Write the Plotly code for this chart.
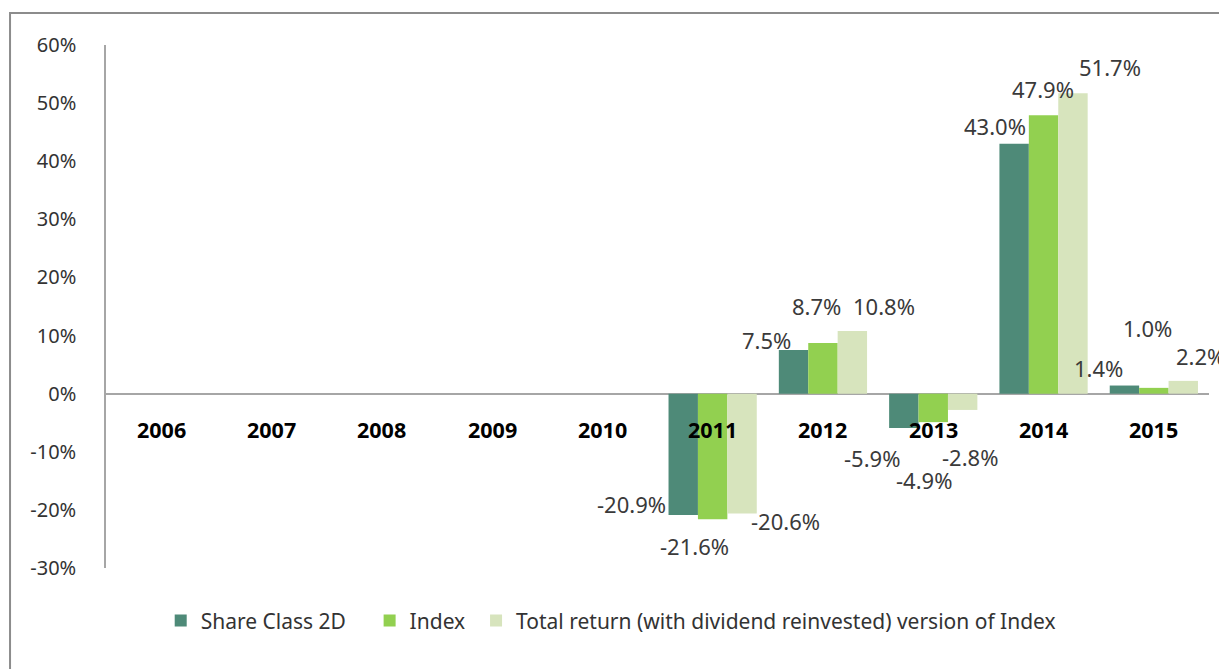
import plotly.graph_objects as go

# данные
years = ["2006", "2007", "2008", "2009", "2010", "2011", "2012", "2013", "2014", "2015"]
share_class = [None, None, None, None, None, -0.209, 0.075, -0.059, 0.430, 0.014]
index_vals = [None, None, None, None, None, -0.216, 0.087, -0.049, 0.479, 0.010]
total_return = [None, None, None, None, None, -0.206, 0.108, -0.028, 0.517, 0.022]

names = ["Share Class 2D", "Index", "Total return (with dividend reinvested) version of Index"]
colors = ["#4E8A78", "#92D050", "#D7E4BD"]
series = [share_class, index_vals, total_return]

tick_vals = [-0.3, -0.2, -0.1, 0, 0.1, 0.2, 0.3, 0.4, 0.5, 0.6]
tick_text = ["-30%", "-20%", "-10%", "0%", "10%", "20%", "30%", "40%", "50%", "60%"]

# смещения подписей (в пикселях) относительно конца столбца, как в Excel
bar_dx = [-29.5, 0, 29.5]
label_shift = {
    0: {"2011": (-52, 11), "2012": (-27, 10), "2013": (-32, -30), "2014": (-19, 18), "2015": (-26, 18)},
    1: {"2011": (-18, -27), "2012": (-6, 37), "2013": (-9, -58), "2014": (-1, 26), "2015": (-6, 60)},
    2: {"2011": (43, -8), "2012": (32, 25), "2013": (7, -47), "2014": (37, 26), "2015": (17, 25)},
}

font_family = "'Noto Sans', 'Open Sans', sans-serif"

# у каждой серии своя легенда, чтобы расставить их как в оригинале
legend_ids = ["legend", "legend2", "legend3"]
legend_x = [0.0496, 0.239, 0.3355]

fig = go.Figure()
for name, vals, col, lg in zip(names, series, colors, legend_ids):
    fig.add_trace(go.Bar(x=years, y=vals, name=name, legend=lg,
                         marker=dict(color=col, line=dict(width=0))))

annotations = []
for i, vals in enumerate(series):
    for k, (yr, v) in enumerate(zip(years, vals)):
        if v is None:
            continue
        dx, dy = label_shift[i][yr]
        annotations.append(dict(
            x=k, y=v, xref="x", yref="y", text=f"{v*100:.1f}%", showarrow=False,
            xshift=bar_dx[i] + dx, yshift=dy,
            font=dict(size=22, color="#3A3A3A", family=font_family),
        ))

# подписи лет у нулевой линии
for k, yr in enumerate(years):
    annotations.append(dict(
        x=k, y=0, xref="x", yref="y", text=f"<b>{yr}</b>", showarrow=False, yshift=-36,
        font=dict(size=21.5, color="#000000", family=font_family),
    ))

legend_style = dict(orientation="h", xanchor="left", y=-0.101, yanchor="middle",
                    font=dict(size=21, color="#333333", family=font_family),
                    bgcolor="rgba(0,0,0,0)")

fig.update_layout(
    barmode="group",
    bargap=0.2,
    bargroupgap=0,
    width=1227,
    height=669,
    margin=dict(l=98, r=26, t=37, b=109),
    paper_bgcolor="white",
    plot_bgcolor="white",
    font=dict(family=font_family, size=18, color="#333333"),
    showlegend=True,
    legend=dict(x=legend_x[0], **legend_style),
    legend2=dict(x=legend_x[1], **legend_style),
    legend3=dict(x=legend_x[2], **legend_style),
    annotations=annotations,
    shapes=[dict(type="rect", xref="paper", yref="paper", x0=-0.087, x1=1.05, y0=-0.3, y1=1.061,
                 line=dict(color="#8C8C8C", width=2), layer="below")],
)
fig.update_xaxes(type="category", range=[-0.5, len(years) - 0.5], autorange=False,
                 showticklabels=False, showgrid=False, showline=False, zeroline=False)
fig.update_yaxes(range=[-0.3, 0.6], tickvals=tick_vals, ticktext=tick_text, showgrid=False,
                 showline=True, linecolor="#A6A6A6", linewidth=1.5,
                 zeroline=True, zerolinecolor="#A6A6A6", zerolinewidth=1.5,
                 ticks="", ticklabelstandoff=24, tickfont=dict(size=20, color="#333333"))

fig.write_html("out.html")
